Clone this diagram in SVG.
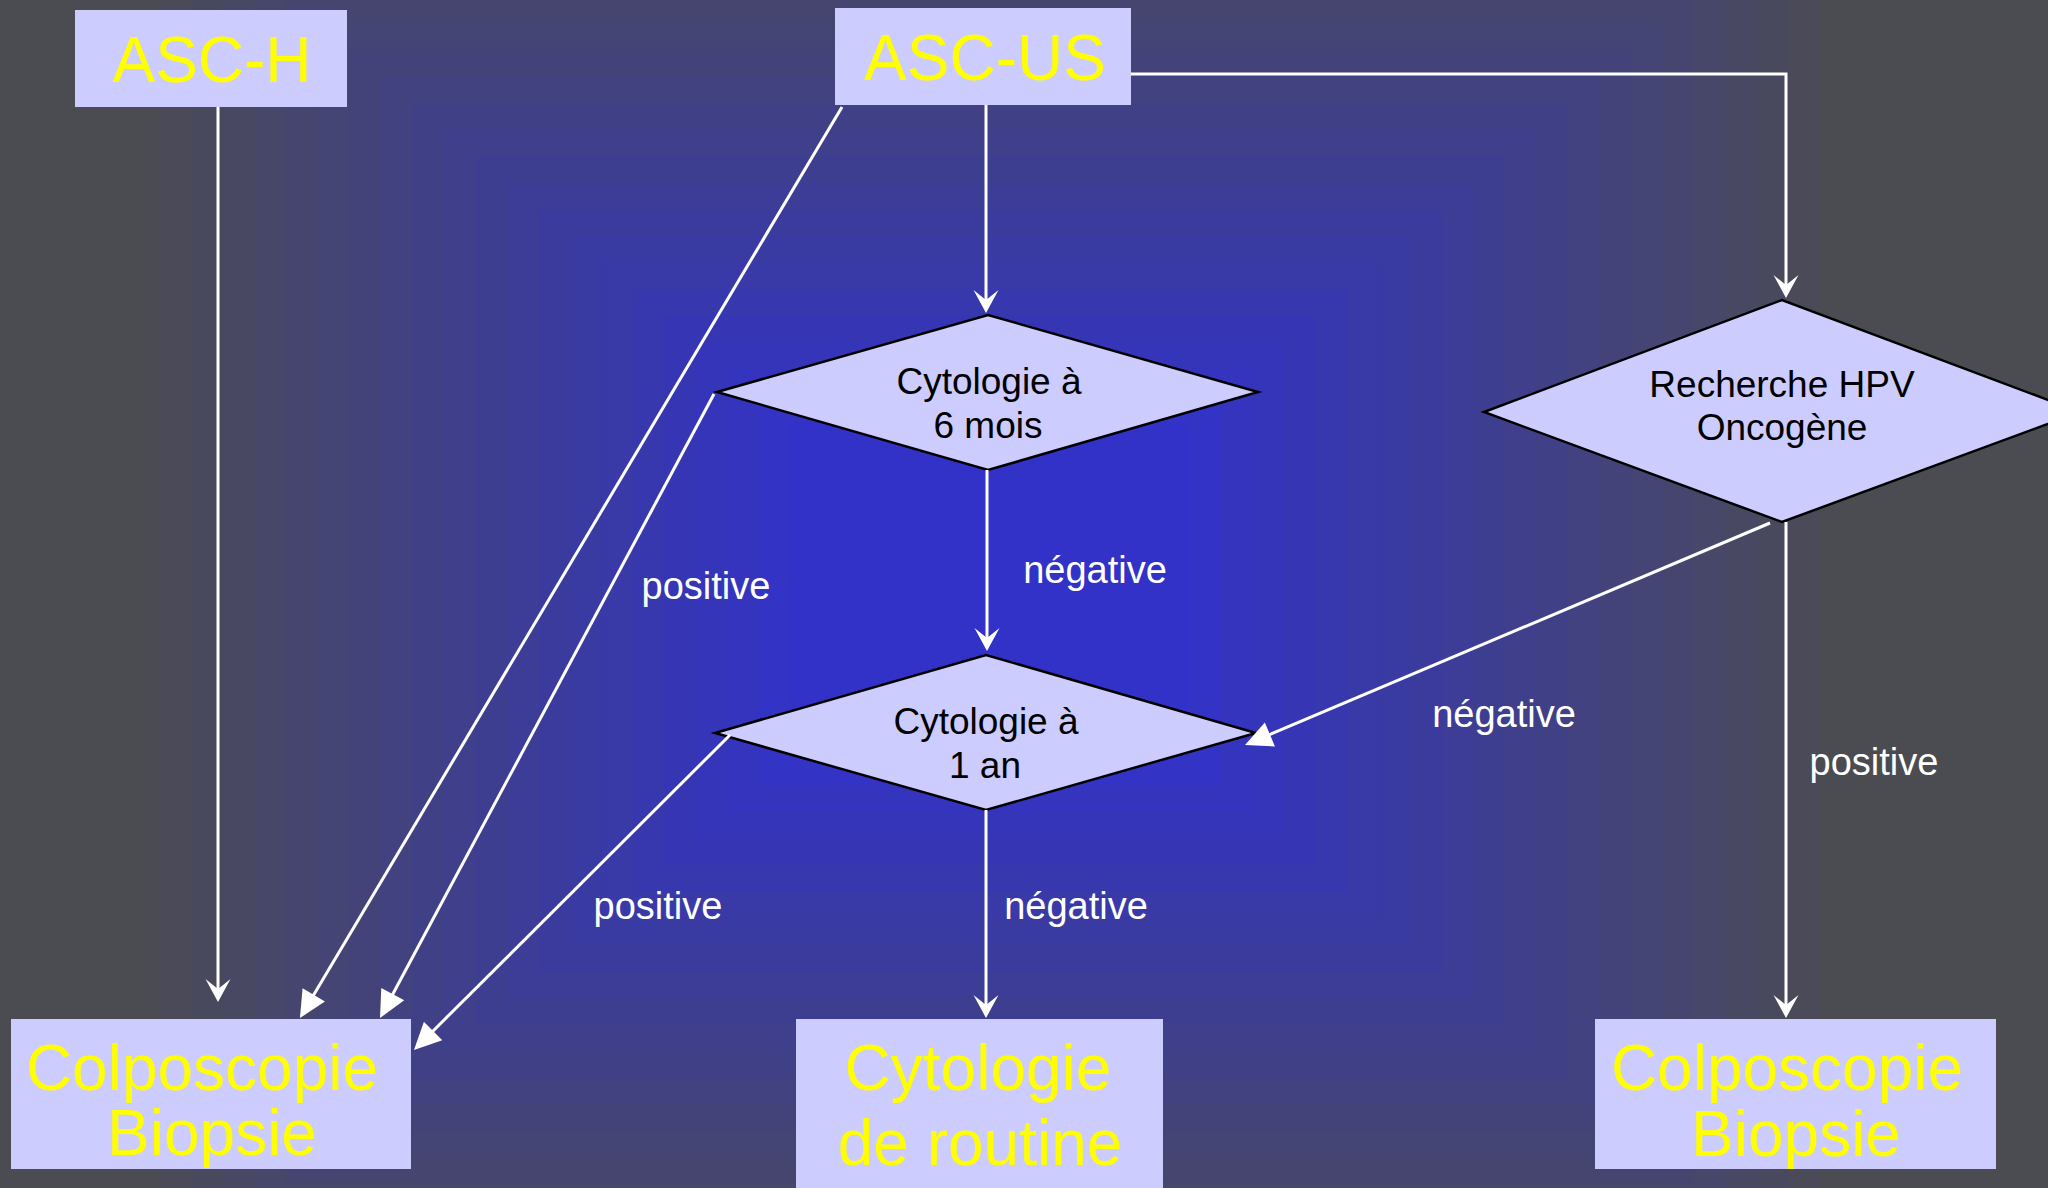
<svg xmlns="http://www.w3.org/2000/svg" width="2048" height="1188" viewBox="0 0 2048 1188">
<style>
.box{fill:#ccccff;}
.dia{fill:#ccccff;stroke:#000;stroke-width:2.5;stroke-linejoin:miter;}
.big{font-family:"Liberation Sans",Arial,sans-serif;font-size:64px;fill:#ffff00;text-anchor:middle;}
.dt{font-family:"Liberation Sans",Arial,sans-serif;font-size:37px;fill:#000;text-anchor:middle;}
.lbl{font-family:"Liberation Sans",Arial,sans-serif;font-size:38px;fill:#fff;text-anchor:middle;}
.con{fill:none;stroke:#fff;stroke-width:3;}
.notch{marker-end:url(#notch);}
.tri{marker-end:url(#tri);}
</style>
<defs>
<marker id="notch" markerUnits="userSpaceOnUse" viewBox="-30 -15 34 30" refX="-4" refY="0" markerWidth="34" markerHeight="30" orient="auto" overflow="visible">
<path d="M0,0 L-23,-12.5 L-13,0 L-23,12.5 Z" fill="#fff"/>
</marker>
<marker id="tri" markerUnits="userSpaceOnUse" viewBox="-30 -15 34 30" refX="-4" refY="0" markerWidth="34" markerHeight="30" orient="auto" overflow="visible">
<path d="M0,0 L-27,-13 L-27,13 Z" fill="#fff"/>
</marker>
</defs>
<g id="background">
<rect x="0" y="0" width="2048" height="1188" fill="#4b4b52"/>
<rect x="160" y="-110" width="1660" height="1400" fill="#4a4a58"/>
<rect x="191.5" y="-83.4" width="1597" height="1346.8" fill="#49495e"/>
<rect x="223.1" y="-56.8" width="1533.8" height="1293.6" fill="#484863"/>
<rect x="254.6" y="-30.2" width="1470.8" height="1240.4" fill="#474769"/>
<rect x="286.2" y="-3.6" width="1407.6" height="1187.2" fill="#45456f"/>
<rect x="317.7" y="23" width="1344.6" height="1134" fill="#444475"/>
<rect x="349.2" y="49.6" width="1281.6" height="1080.8" fill="#43437a"/>
<rect x="380.8" y="76.2" width="1218.4" height="1027.6" fill="#424280"/>
<rect x="412.3" y="102.8" width="1155.4" height="974.4" fill="#404086"/>
<rect x="443.9" y="129.4" width="1092.2" height="921.2" fill="#3f3f8c"/>
<rect x="475.4" y="156" width="1029.2" height="868" fill="#3e3e91"/>
<rect x="506.9" y="182.6" width="966.2" height="814.8" fill="#3d3d97"/>
<rect x="538.5" y="209.2" width="903" height="761.6" fill="#3b3b9d"/>
<rect x="570" y="235.8" width="840" height="708.4" fill="#3a3aa3"/>
<rect x="601.6" y="262.4" width="776.8" height="655.2" fill="#3939a8"/>
<rect x="633.1" y="289" width="713.8" height="602" fill="#3838ae"/>
<rect x="664.6" y="315.6" width="650.8" height="548.8" fill="#3636b4"/>
<rect x="696.2" y="342.2" width="587.6" height="495.6" fill="#3535ba"/>
<rect x="727.7" y="368.8" width="524.6" height="442.4" fill="#3434bf"/>
<rect x="759.3" y="395.4" width="461.4" height="389.2" fill="#3333c5"/>
<rect x="790.8" y="422" width="398.4" height="336" fill="#3232c8"/>
</g>
<g id="n-asch">
<rect class="box" x="75" y="10" width="272" height="97"/>
<text class="big" x="212" y="82">ASC-H</text>
</g>
<g id="n-ascus">
<rect class="box" x="835" y="8" width="296" height="97"/>
<text class="big" x="985" y="80">ASC-US</text>
</g>
<g id="n-cyto6">
<polygon class="dia" points="717,392 988,315 1258,392 988,470"/>
<text class="dt" x="989" y="394">Cytologie à</text>
<text class="dt" x="988" y="438">6 mois</text>
</g>
<g id="n-cyto1">
<polygon class="dia" points="715,733 986,655 1256,733 986,810"/>
<text class="dt" x="986" y="734">Cytologie à</text>
<text class="dt" x="985" y="778">1 an</text>
</g>
<g id="n-hpv">
<polygon class="dia" points="1484,412 1782,300 2080,412 1782,522"/>
<text class="dt" x="1782" y="397">Recherche HPV</text>
<text class="dt" x="1782" y="440">Oncogène</text>
</g>
<g id="n-colpo-left">
<rect class="box" x="11" y="1019" width="400" height="150"/>
<text class="big" x="202" y="1090">Colposcopie</text>
<text class="big" x="212" y="1155">Biopsie</text>
</g>
<g id="n-routine">
<rect class="box" x="796" y="1019" width="367" height="175"/>
<text class="big" x="978" y="1090">Cytologie</text>
<text class="big" x="980" y="1165">de routine</text>
</g>
<g id="n-colpo-right">
<rect class="box" x="1595" y="1019" width="401" height="150"/>
<text class="big" x="1787" y="1090">Colposcopie</text>
<text class="big" x="1796" y="1156">Biopsie</text>
</g>
<g id="connectors">
<path class="con notch" d="M218,107 V998"/>
<path class="con tri" d="M842,107 L302,1014.6"/>
<path class="con tri" d="M714,394 L381.9,1014.5"/>
<path class="con notch" d="M986,105 V309"/>
<path class="con notch" d="M987,470 V647"/>
<path class="con tri" d="M730,735 L416.8,1047.2"/>
<path class="con notch" d="M986,810 V1014"/>
<path class="con notch" d="M1131,74 H1786 V294"/>
<path class="con tri" d="M1770,523 L1248.7,743.4"/>
<path class="con notch" d="M1786,522 V1014"/>
<text class="lbl" x="706" y="599">positive</text>
<text class="lbl" x="1095" y="583">négative</text>
<text class="lbl" x="658" y="919">positive</text>
<text class="lbl" x="1076" y="919">négative</text>
<text class="lbl" x="1504" y="727">négative</text>
<text class="lbl" x="1874" y="775">positive</text>
</g>
</svg>
